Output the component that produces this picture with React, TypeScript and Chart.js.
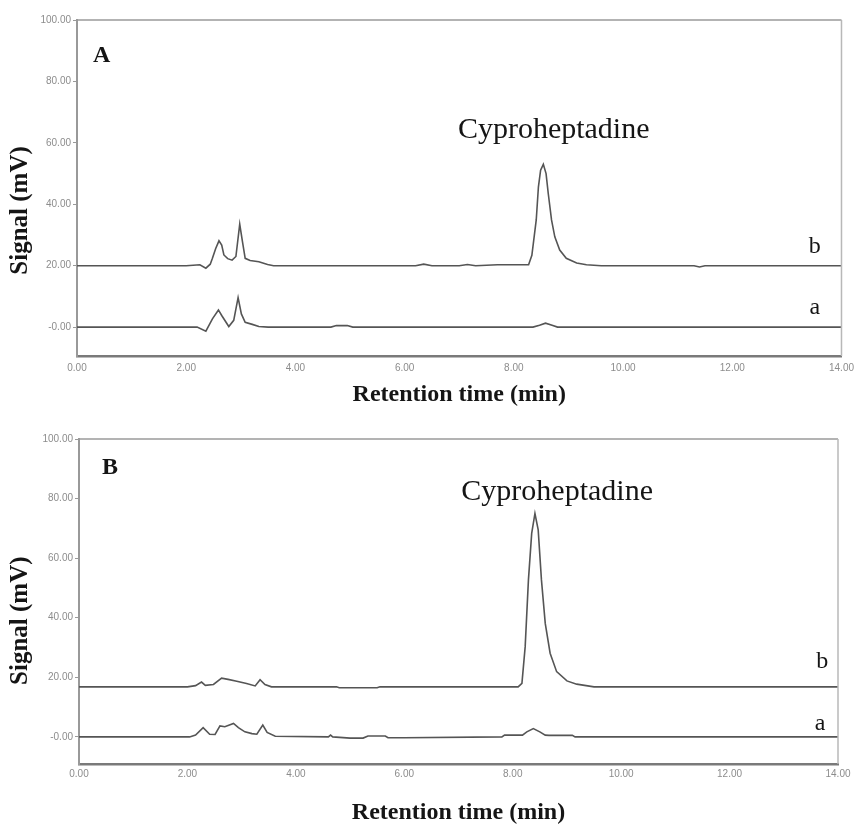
import React, { useEffect, useRef } from "react";
import { Chart, registerables } from "chart.js";

Chart.register(...registerables);

// ---------- data ----------
const xTickValues = [0, 2, 4, 6, 8, 10, 12, 14];
const yTickValues = [0, 20, 40, 60, 80, 100];

const xTitle = "Retention time (min)";
const yTitle = "Signal (mV)";
const compoundName = "Cyproheptadine";

// Panel A, trace b (standard)
const timeA_b = [0, 2.0, 2.25, 2.36, 2.44, 2.48, 2.54, 2.6, 2.65, 2.69, 2.76, 2.84, 2.91, 2.98, 3.03, 3.08, 3.17, 3.33, 3.49, 3.6, 6.2, 6.35, 6.5, 7.0, 7.15, 7.3, 7.7, 8.2, 8.27, 8.33, 8.41, 8.45, 8.49, 8.54, 8.59, 8.63, 8.69, 8.75, 8.84, 8.96, 9.15, 9.33, 9.6, 11.3, 11.4, 11.5, 14];
const signalA_b = [20, 20, 20.3, 19.2, 20.5, 22.4, 25.6, 28.1, 26.7, 23.5, 22.3, 21.8, 23, 33.5, 27.8, 22.4, 21.7, 21.3, 20.4, 20, 20, 20.5, 20, 20, 20.4, 20, 20.3, 20.3, 20.3, 23.4, 34.9, 45.7, 51.1, 53, 50, 43.5, 34.9, 29.4, 25.1, 22.4, 20.9, 20.3, 20, 20, 19.6, 20, 20];

// Panel A, trace a (blank)
const timeA_a = [0, 2.2, 2.36, 2.48, 2.59, 2.65, 2.78, 2.87, 2.95, 3.01, 3.08, 3.21, 3.33, 3.5, 4.65, 4.75, 4.95, 5.05, 8.35, 8.47, 8.58, 8.7, 8.8, 14];
const signalA_a = [0, 0, -1.3, 2.7, 5.6, 3.8, 0.2, 2.2, 9.6, 4.3, 1.6, 0.9, 0.2, 0, 0, 0.5, 0.5, 0, 0, 0.6, 1.3, 0.6, 0, 0];

// Panel B, trace b (standard)
const timeB_b = [0, 2.0, 2.15, 2.26, 2.33, 2.48, 2.63, 2.75, 2.91, 3.09, 3.25, 3.34, 3.43, 3.55, 4.75, 4.8, 5.5, 5.55, 8.1, 8.17, 8.23, 8.29, 8.35, 8.41, 8.47, 8.53, 8.6, 8.69, 8.81, 9.0, 9.18, 9.5, 14];
const signalB_b = [16.8, 16.8, 17.2, 18.4, 17.3, 17.6, 19.7, 19.3, 18.7, 17.9, 17.1, 19.2, 17.6, 16.8, 16.8, 16.5, 16.5, 16.8, 16.8, 18.0, 30.3, 52.7, 68.3, 75, 69.5, 52.7, 38.1, 28.1, 21.9, 18.8, 17.7, 16.8, 16.8];

// Panel B, trace a (blank)
const timeB_a = [0, 2.04, 2.15, 2.29, 2.41, 2.51, 2.6, 2.69, 2.85, 2.94, 3.06, 3.19, 3.28, 3.39, 3.47, 3.62, 4.6, 4.64, 4.68, 5.0, 5.24, 5.33, 5.65, 5.7, 6.0, 7.8, 7.85, 8.18, 8.26, 8.38, 8.5, 8.6, 8.67, 9.1, 9.15, 14];
const signalB_a = [0, 0, 0.6, 3.1, 0.9, 0.8, 3.7, 3.4, 4.5, 3.1, 1.7, 1.1, 0.9, 4.0, 1.5, 0.2, 0, 0.6, 0, -0.4, -0.4, 0.3, 0.3, -0.3, -0.3, 0, 0.6, 0.6, 1.7, 2.8, 1.7, 0.6, 0.5, 0.5, 0, 0];

// ---------- styling ----------
const SERIF = '"Liberation Serif", "Times New Roman", "DejaVu Serif", serif';
const TICK_FONT = '"Liberation Sans Narrow", "Liberation Sans", Arial, sans-serif';

type Label = { text: string; x: number; y: number; font: string };
type Panel = {
  top: number;
  height: number;
  yMin: number;
  padTop: number;
  padRight: number;
  yAxisWidth: number;
  xAxisHeight: number;
  xTickPad: number;
  xTitlePadBottom: number;
  yTitleX: number;
  yTitleAt: number;
  series: { t: number[]; v: number[] }[];
  labels: Label[];
};

const panels: Panel[] = [
  {
    top: 0,
    height: 420,
    yMin: -9.4,
    padTop: 20,
    padRight: 14,
    yAxisWidth: 77,
    xAxisHeight: 64,
    xTickPad: 6,
    xTitlePadBottom: 13,
    yTitleX: 21,
    yTitleAt: 38,
    series: [
      { t: timeA_b, v: signalA_b },
      { t: timeA_a, v: signalA_a },
    ],
    labels: [
      { text: "A", x: 0.45, y: 88.5, font: `bold 24px ${SERIF}` },
      { text: compoundName, x: 8.73, y: 64.2, font: `30px ${SERIF}` },
      { text: "b", x: 13.51, y: 26.3, font: `24px ${SERIF}` },
      { text: "a", x: 13.51, y: 6.3, font: `24px ${SERIF}` },
    ],
  },
  {
    top: 420,
    height: 405,
    yMin: -9.1,
    padTop: 19,
    padRight: 22,
    yAxisWidth: 79,
    xAxisHeight: 61,
    xTickPad: 4,
    xTitlePadBottom: 0,
    yTitleX: 21,
    yTitleAt: 39,
    series: [
      { t: timeB_b, v: signalB_b },
      { t: timeB_a, v: signalB_a },
    ],
    labels: [
      { text: "B", x: 0.57, y: 90.3, font: `bold 24px ${SERIF}` },
      { text: compoundName, x: 8.82, y: 82.2, font: `30px ${SERIF}` },
      { text: "b", x: 13.71, y: 25.2, font: `24px ${SERIF}` },
      { text: "a", x: 13.67, y: 4.5, font: `24px ${SERIF}` },
    ],
  },
];

function PanelChart({ p }: { p: Panel }) {
  const ref = useRef<HTMLCanvasElement | null>(null);

  useEffect(() => {
    if (!ref.current) return;

    const framePlugin = {
      id: "frame",
      afterDraw(chart: any) {
        const { ctx, chartArea: a } = chart;
        ctx.save();
        ctx.strokeStyle = "#9a9a9a";
        ctx.lineWidth = 1.5;
        ctx.beginPath();
        ctx.moveTo(a.left, a.top);
        ctx.lineTo(a.right, a.top);
        ctx.stroke();
        ctx.strokeStyle = "#b8b8b8";
        ctx.beginPath();
        ctx.moveTo(a.right, a.top);
        ctx.lineTo(a.right, a.bottom);
        ctx.stroke();
        ctx.restore();
      },
    };

    const labelPlugin = {
      id: "labels",
      afterDraw(chart: any) {
        const { ctx, scales } = chart;
        p.labels.forEach((l) => {
          ctx.save();
          ctx.font = l.font;
          ctx.fillStyle = "#151515";
          ctx.textAlign = "center";
          ctx.textBaseline = "middle";
          ctx.fillText(l.text, scales.x.getPixelForValue(l.x), scales.y.getPixelForValue(l.y));
          ctx.restore();
        });
        // rotated y-axis title
        ctx.save();
        ctx.translate(p.yTitleX, scales.y.getPixelForValue(p.yTitleAt));
        ctx.rotate(-Math.PI / 2);
        ctx.font = `bold 25px ${SERIF}`;
        ctx.fillStyle = "#151515";
        ctx.textAlign = "center";
        ctx.textBaseline = "middle";
        ctx.fillText(yTitle, 0, 0);
        ctx.restore();
      },
    };

    const chart = new Chart(ref.current, {
      type: "line",
      data: {
        datasets: p.series.map((s) => ({
          data: s.t.map((x, i) => ({ x, y: s.v[i] })),
          borderColor: "#555555",
          borderWidth: 1.6,
          pointRadius: 0,
          tension: 0,
          fill: false,
        })),
      },
      options: {
        animation: false,
        responsive: false,
        maintainAspectRatio: false,
        layout: { padding: { top: p.padTop, right: p.padRight, left: 0, bottom: 0 } },
        plugins: { legend: { display: false }, tooltip: { enabled: false } },
        scales: {
          x: {
            type: "linear",
            min: 0,
            max: 14,
            afterBuildTicks: (s: any) => {
              s.ticks = xTickValues.map((value) => ({ value }));
            },
            afterFit: (s: any) => {
              s.height = p.xAxisHeight;
            },
            ticks: {
              autoSkip: false,
              maxRotation: 0,
              padding: p.xTickPad,
              color: "#8c8c8c",
              font: { family: TICK_FONT, size: 10 },
              callback: (v: any) => Number(v).toFixed(2),
            },
            grid: { display: false, drawTicks: false },
            border: { display: true, color: "#7a7a7a", width: 2.5 },
            title: {
              display: true,
              text: xTitle,
              color: "#151515",
              font: { family: SERIF, size: 24, weight: "bold", lineHeight: 1 },
              padding: { top: 0, bottom: p.xTitlePadBottom },
            },
          },
          y: {
            type: "linear",
            min: p.yMin,
            max: 100,
            afterBuildTicks: (s: any) => {
              s.ticks = yTickValues.map((value) => ({ value }));
            },
            afterFit: (s: any) => {
              s.width = p.yAxisWidth;
            },
            ticks: {
              padding: 2,
              color: "#8c8c8c",
              font: { family: TICK_FONT, size: 10 },
              callback: (v: any) => (Number(v) === 0 ? "-0.00" : Number(v).toFixed(2)),
            },
            grid: { display: true, drawOnChartArea: false, drawTicks: true, tickLength: 4, color: "#999999" },
            border: { display: true, color: "#999999", width: 2 },
            title: { display: false },
          },
        },
      },
      plugins: [framePlugin, labelPlugin],
    } as any);

    return () => chart.destroy();
  }, [p]);

  return (
    <canvas
      ref={ref}
      width={860}
      height={p.height}
      style={{ position: "absolute", left: 0, top: p.top, width: 860, height: p.height }}
    />
  );
}

export default function App() {
  return (
    <div
      style={{
        position: "absolute",
        left: 0,
        top: 0,
        width: 860,
        height: 825,
        overflow: "hidden",
        background: "#ffffff",
      }}
    >
      {panels.map((p, i) => (
        <PanelChart key={i} p={p} />
      ))}
    </div>
  );
}
